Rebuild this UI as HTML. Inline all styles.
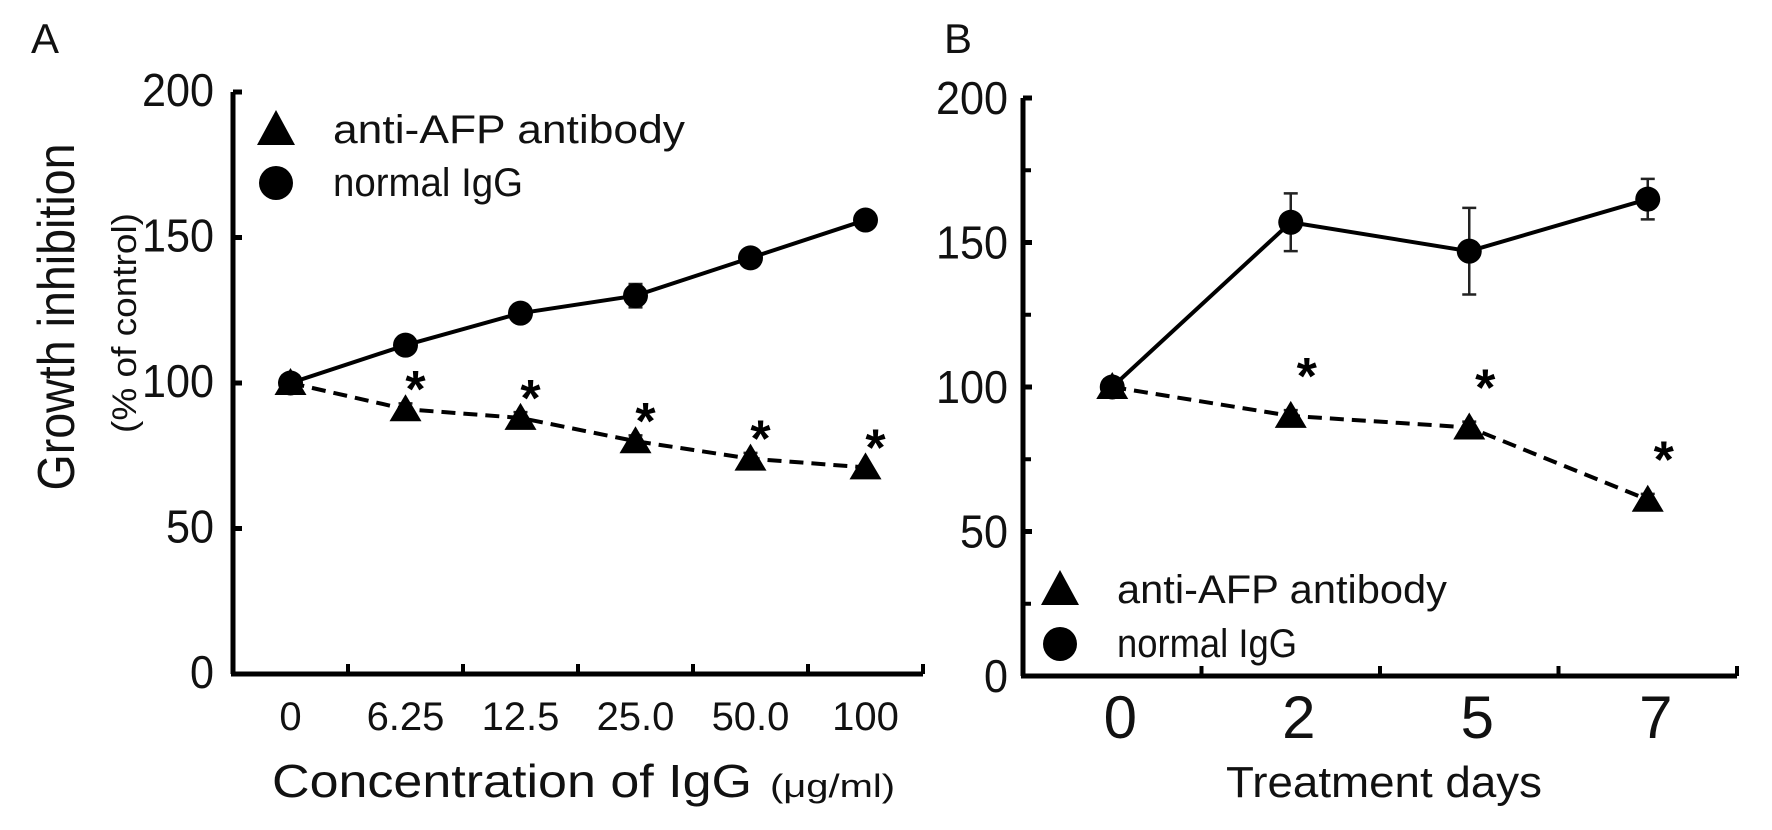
<!DOCTYPE html>
<html><head><meta charset="utf-8">
<style>
html,body{margin:0;padding:0;background:#fff;}
svg{display:block;font-family:"Liberation Sans",sans-serif;}
</style></head>
<body>
<svg id="fig" width="1772" height="830" viewBox="0 0 1772 830" xmlns="http://www.w3.org/2000/svg"></svg>
<script>
// Panel A data
const catsA = ["0","6.25","12.5","25.0","50.0","100"];
const igA = [100,113,124,130,143,156];
const igAErr = [1,1,1,4,1,1];
const afpA = [100,91,88,80,74,71];
const afpAErr = [1,2,2,2,2,1];
const sigA = [false,true,true,true,true,true];
// Panel B data
const catsB = ["0","2","5","7"];
const igB = [100,157,147,165];
const igBErr = [1,10,15,7];
const afpB = [100,90,86,61];
const afpBErr = [1,4,7,2];
const sigB = [false,true,true,true];
const yTicks = [0,50,100,150,200];

const NS="http://www.w3.org/2000/svg";
const svg=document.getElementById('fig');
function mk(tag,attrs,parent){const e=document.createElementNS(NS,tag);for(const k in attrs)e.setAttribute(k,attrs[k]);(parent||svg).appendChild(e);return e;}
function txt(s,attrs,parent){const e=mk('text',attrs,parent);e.textContent=s;return e;}

function panel(cfg){
  const g=mk('g',{});
  
  
  const y=v=>cfg.y0-(v/200)*(cfg.y0-cfg.y200);
  const x=i=>cfg.x0+cfg.step*(i+0.5);
  const xEnd=cfg.x0+cfg.step*cfg.cats.length;
  const ya=mk('line',{x1:cfg.x0,y1:cfg.y200,x2:cfg.x0,y2:cfg.y0,stroke:'#000','stroke-width':5},g);
  
  
  const xa=mk('line',{x1:cfg.x0-2,y1:cfg.y0,x2:xEnd,y2:cfg.y0,stroke:'#000','stroke-width':5},g);
  
  
  yTicks.forEach(v=>{
    mk('line',{x1:cfg.x0,y1:y(v),x2:cfg.x0+9,y2:y(v),stroke:'#000','stroke-width':5},g);
    const s=String(v);
    const t=txt(s,{x:cfg.labX,y:y(v)+cfg.labDy,'text-anchor':'end','font-size':46,textLength:s.length*24,lengthAdjust:'spacingAndGlyphs',fill:'#111'},g);
    
    
  });
  if(cfg.minor){[25,75,125,175].forEach(v=>mk('line',{x1:cfg.x0,y1:y(v),x2:cfg.x0+8,y2:y(v),stroke:'#000','stroke-width':4},g));}
  for(let i=1;i<=cfg.cats.length;i++){
    mk('line',{x1:cfg.x0+cfg.step*i,y1:cfg.y0,x2:cfg.x0+cfg.step*i,y2:cfg.y0-10,stroke:'#000','stroke-width':4},g);
  }
  cfg.cats.forEach((c,i)=>{
    const t=txt(c,{x:x(i)+cfg.catDx,y:cfg.catY,'text-anchor':'middle','font-size':cfg.catSize,fill:'#111'},g);
    
    
  });
  const pIg=cfg.ig.map((v,i)=>x(i)+','+y(v)).join(' ');
  const l1=mk('polyline',{points:pIg,fill:'none',stroke:'#000','stroke-width':4},g);
  
  
  const pAf=cfg.afp.map((v,i)=>x(i)+','+y(v)).join(' ');
  const l2=mk('polyline',{points:pAf,fill:'none',stroke:'#000','stroke-width':4,'stroke-dasharray':'14,8'},g);
  
  
  function err(vals,errs){
    vals.forEach((v,i)=>{
      if(errs[i]<2)return;
      const cx=x(i),a=y(v+errs[i]),b=y(v-errs[i]);
      const e=mk('path',{d:`M${cx},${a}V${b}M${cx-7},${a}H${cx+7}M${cx-7},${b}H${cx+7}`,stroke:'#222','stroke-width':2.5,fill:'none'},g);
      
      
    });
  }
  err(cfg.ig,cfg.igErr);err(cfg.afp,cfg.afpErr);
  cfg.ig.forEach((v,i)=>{
    const c=mk('circle',{cx:x(i),cy:y(v),r:12.5,fill:'#000'},g);
    
    
  });
  cfg.afp.forEach((v,i)=>{
    const cx=x(i),cy=y(v);
    const p=mk('polygon',{points:`${cx},${cy-15} ${cx-16},${cy+12} ${cx+16},${cy+12}`,fill:'#000'},g);
    
    
    if(cfg.sig[i]){
      const s=txt('*',{x:cx+cfg.astDx,y:cy-cfg.astDy,'text-anchor':'middle','font-size':52,'font-weight':'bold',fill:'#000'},g);
      
      
    }
  });
  const lg=mk('g',{},g);
  
  
  const L=cfg.leg;
  mk('polygon',{points:`${L.mx},${L.y1-20} ${L.mx-19},${L.y1+15} ${L.mx+19},${L.y1+15}`,fill:'#000'},lg);
  mk('circle',{cx:L.mx,cy:L.y2,r:17,fill:'#000'},lg);
  const t1=txt('anti-AFP antibody',{x:L.tx,y:L.y1+13,'font-size':40,textLength:L.w1,lengthAdjust:'spacingAndGlyphs',fill:'#111'},lg);
  
  
  const t2=txt('normal IgG',{x:L.tx,y:L.y2+13,'font-size':40,textLength:L.w2,lengthAdjust:'spacingAndGlyphs',fill:'#111'},lg);
  
  
}

panel({name:'panel-a',x0:233,step:115,y0:674,y200:92,cats:catsA,ig:igA,igErr:igAErr,afp:afpA,afpErr:afpAErr,sig:sigA,
  labX:214,labDy:14,catY:730,catSize:40,catDx:0,minor:false,astDx:10,astDy:2,
  leg:{mx:276,tx:333,y1:130,y2:183,w1:352,w2:190}});
panel({name:'panel-b',x0:1023,step:178.5,y0:676,y200:98,cats:catsB,ig:igB,igErr:igBErr,afp:afpB,afpErr:afpAErr,sig:sigB,
  labX:1008,labDy:16,catY:738,catSize:60,catDx:8,minor:true,astDx:16,astDy:22,
  leg:{mx:1060,tx:1117,y1:590,y2:644,w1:330,w2:180}});

let t;
t=txt('A',{x:31,y:53,'font-size':42,fill:'#111'});


t=txt('B',{x:944,y:53,'font-size':42,fill:'#111'});


t=txt('Growth inhibition',{x:0,y:0,'font-size':52,textLength:347,lengthAdjust:'spacingAndGlyphs',fill:'#111','text-anchor':'middle',transform:'translate(74,317) rotate(-90)'});


t=txt('(% of control)',{x:0,y:0,'font-size':34,textLength:220,lengthAdjust:'spacingAndGlyphs',fill:'#111','text-anchor':'middle',transform:'translate(136,323) rotate(-90)'});


t=txt('Concentration of IgG',{x:272,y:797,'font-size':46,textLength:480,lengthAdjust:'spacingAndGlyphs',fill:'#111'});


t=txt('(μg/ml)',{x:770,y:797,'font-size':32,textLength:125,lengthAdjust:'spacingAndGlyphs',fill:'#111'});


t=txt('Treatment days',{x:1226,y:797,'font-size':44,textLength:316,lengthAdjust:'spacingAndGlyphs',fill:'#111'});


</script>
</body></html>
